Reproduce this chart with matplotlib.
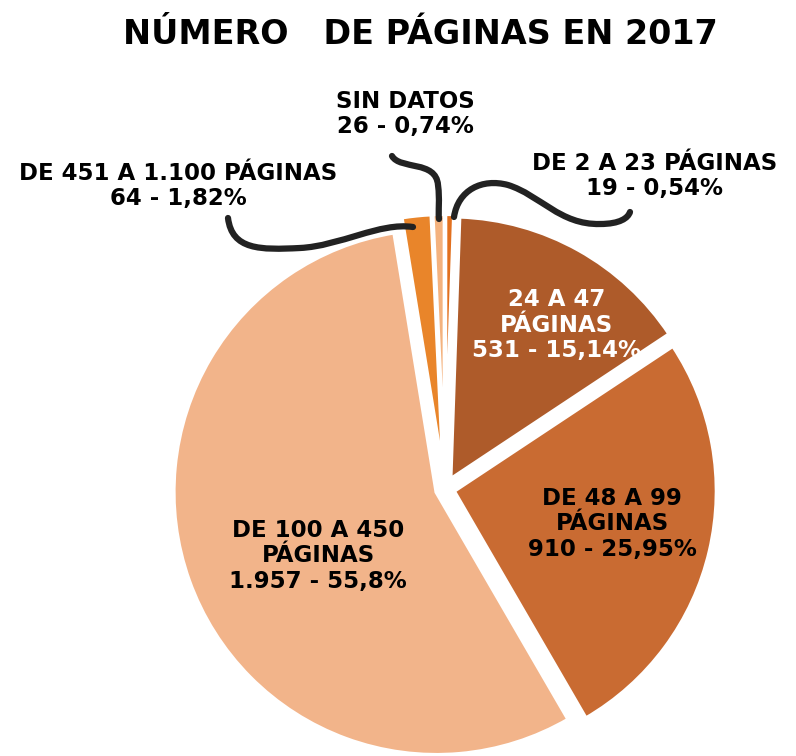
import matplotlib.pyplot as plt
from matplotlib.path import Path
from matplotlib.patches import PathPatch

# data, clockwise from 12 o'clock
categories = ['De 2 a 23 páginas', '24 a 47 páginas', 'De 48 a 99 páginas',
              'De 100 a 450 páginas', 'De 451 a 1.100 páginas', 'Sin datos']
counts = [19, 531, 910, 1957, 64, 26]
percent_labels = ['0,54%', '15,14%', '25,95%', '55,8%', '1,82%', '0,74%']
count_labels = ['19', '531', '910', '1.957', '64', '26']
colors = ['#E2701E', '#AE5B2A', '#C96B32', '#F2B48A', '#E9852A', '#F4B27E']

W, H = 796, 756
FONT = ['Liberation Sans Narrow', 'DejaVu Sans']


def py(y):
    return H - y


fig = plt.figure(figsize=(W / 100, H / 100), dpi=100)
ax = fig.add_axes([0, 0, 1, 1])

# explode is in data units here (pixels)
wedges, _ = ax.pie(counts, colors=colors, startangle=90, counterclock=False,
                   radius=263, center=(445, py(489)),
                   explode=[12, 11, 9, 9, 12, 12],
                   wedgeprops=dict(edgecolor='white', linewidth=3))
ax.set_xlim(0, W)
ax.set_ylim(0, H)
ax.set_aspect('equal')
ax.axis('off')

ax.text(420, py(35), 'NÚMERO   DE PÁGINAS EN 2017', ha='center', va='center',
        fontsize=24, fontweight='bold', family=FONT)

fs = 16.5
ls = 1.12
ax.text(557, py(325), '24 A 47\nPÁGINAS\n%s - %s' % (count_labels[1], percent_labels[1]),
        ha='center', va='center', fontsize=fs, fontweight='bold', color='white',
        family=FONT, linespacing=ls)
ax.text(612, py(524), 'DE 48 A 99\nPÁGINAS\n%s - %s' % (count_labels[2], percent_labels[2]),
        ha='center', va='center', fontsize=fs, fontweight='bold', color='black',
        family=FONT, linespacing=ls)
ax.text(318, py(556), 'DE 100 A 450\nPÁGINAS\n%s - %s' % (count_labels[3], percent_labels[3]),
        ha='center', va='center', fontsize=fs, fontweight='bold', color='black',
        family=FONT, linespacing=ls)
ax.text(405, py(114), 'SIN DATOS\n%s - %s' % (count_labels[5], percent_labels[5]),
        ha='center', va='center', fontsize=fs, fontweight='bold', family=FONT,
        linespacing=ls)
ax.text(655, py(176), 'DE 2 A 23 PÁGINAS\n%s - %s' % (count_labels[0], percent_labels[0]),
        ha='center', va='center', fontsize=fs, fontweight='bold', family=FONT,
        linespacing=ls)
ax.text(178, py(186), 'DE 451 A 1.100 PÁGINAS\n%s - %s' % (count_labels[4], percent_labels[4]),
        ha='center', va='center', fontsize=fs, fontweight='bold', family=FONT,
        linespacing=ls)


def connector(points):
    verts = [(x, py(y)) for x, y in points]
    codes = [Path.MOVETO] + [Path.CURVE4] * (len(verts) - 1)
    patch = PathPatch(Path(verts, codes), fill=False, edgecolor='#222222',
                      linewidth=4.5, capstyle='round', joinstyle='round')
    ax.add_patch(patch)


# hand-drawn style leader lines
connector([(228, 218), (232, 250), (260, 250), (300, 248),
           (340, 246), (380, 222), (413, 227)])
connector([(392, 156), (400, 170), (436, 160), (438, 185),
           (440, 200), (438, 210), (439, 219)])
connector([(454, 217), (458, 190), (482, 178), (508, 185),
           (540, 195), (560, 225), (600, 224), (620, 224), (628, 218), (630, 212)])

fig.savefig('out.png', dpi=100, facecolor='white')
